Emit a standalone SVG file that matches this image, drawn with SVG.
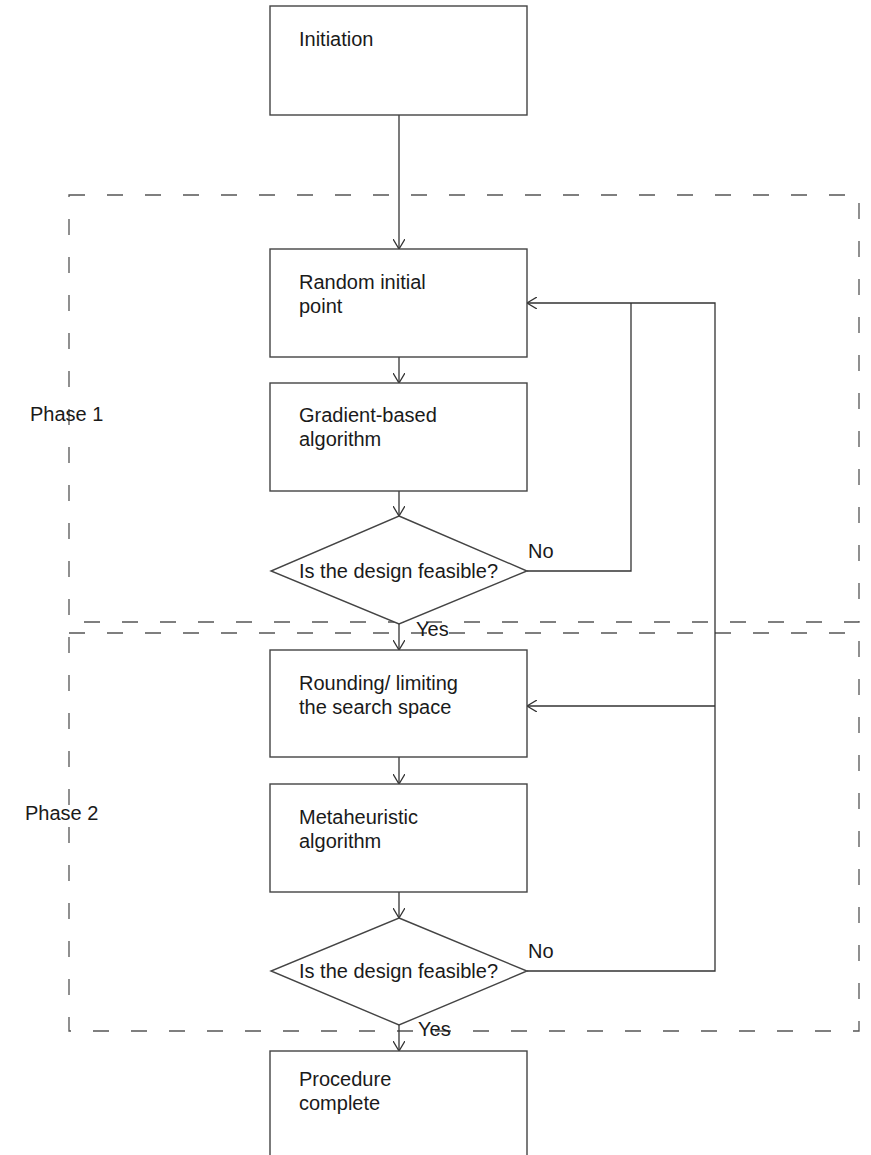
<svg xmlns="http://www.w3.org/2000/svg" width="871" height="1155" viewBox="0 0 871 1155">
<defs>
<marker id="arr" viewBox="0 0 10 12" refX="10" refY="6" markerWidth="10" markerHeight="12" markerUnits="userSpaceOnUse" orient="auto">
<path d="M0,0 L10,6 L0,12" fill="none" stroke="#333" stroke-width="1.3"/>
</marker>
<style>
.box{fill:#fff;stroke:#444;stroke-width:1.4}
.phase{fill:none;stroke:#555;stroke-width:1.3;stroke-dasharray:16 22}
.ln{fill:none;stroke:#333;stroke-width:1.3}
text{font-family:"Liberation Sans",Arial,sans-serif;font-size:20px;fill:#1a1a1a}
</style>
</defs>
<rect width="871" height="1155" fill="#fff"/>
<g id="phase1">
<rect class="phase" x="69" y="195" width="790" height="427"/>
<text x="30" y="421">Phase 1</text>
</g>
<g id="phase2">
<rect class="phase" x="69" y="633" width="790" height="398"/>
<text x="25" y="820">Phase 2</text>
</g>
<g id="connectors">
<line class="ln" x1="399" y1="115" x2="399" y2="249" marker-end="url(#arr)"/>
<line class="ln" x1="399" y1="357" x2="399" y2="383" marker-end="url(#arr)"/>
<line class="ln" x1="399" y1="491" x2="399" y2="516" marker-end="url(#arr)"/>
<line class="ln" x1="399" y1="624" x2="399" y2="650" marker-end="url(#arr)"/>
<line class="ln" x1="399" y1="757" x2="399" y2="784" marker-end="url(#arr)"/>
<line class="ln" x1="399" y1="892" x2="399" y2="918" marker-end="url(#arr)"/>
<line class="ln" x1="399" y1="1025" x2="399" y2="1051" marker-end="url(#arr)"/>
<polyline class="ln" points="527,571 631,571 631,303"/>
<polyline class="ln" points="527,971 715,971 715,303 527,303" marker-end="url(#arr)"/>
<line class="ln" x1="715" y1="706" x2="527" y2="706" marker-end="url(#arr)"/>
<text x="528" y="558">No</text>
<text x="416" y="636">Yes</text>
<text x="528" y="958">No</text>
<text x="418" y="1036">Yes</text>
</g>
<g id="initiation">
<rect class="box" x="270" y="6" width="257" height="109"/>
<text x="299" y="46">Initiation</text>
</g>
<g id="random">
<rect class="box" x="270" y="249" width="257" height="108"/>
<text x="299" y="289">Random initial</text>
<text x="299" y="313">point</text>
</g>
<g id="gradient">
<rect class="box" x="270" y="383" width="257" height="108"/>
<text x="299" y="422">Gradient-based</text>
<text x="299" y="446">algorithm</text>
</g>
<g id="feasible1">
<polygon class="box" points="399,516 527,571 399,624 271,571"/>
<text x="299" y="578">Is the design feasible?</text>
</g>
<g id="rounding">
<rect class="box" x="270" y="650" width="257" height="107"/>
<text x="299" y="690">Rounding/ limiting</text>
<text x="299" y="714">the search space</text>
</g>
<g id="metaheuristic">
<rect class="box" x="270" y="784" width="257" height="108"/>
<text x="299" y="824">Metaheuristic</text>
<text x="299" y="848">algorithm</text>
</g>
<g id="feasible2">
<polygon class="box" points="399,918 527,971 399,1025 271,971"/>
<text x="299" y="978">Is the design feasible?</text>
</g>
<g id="complete">
<rect class="box" x="270" y="1051" width="257" height="120"/>
<text x="299" y="1086">Procedure</text>
<text x="299" y="1110">complete</text>
</g>
</svg>
